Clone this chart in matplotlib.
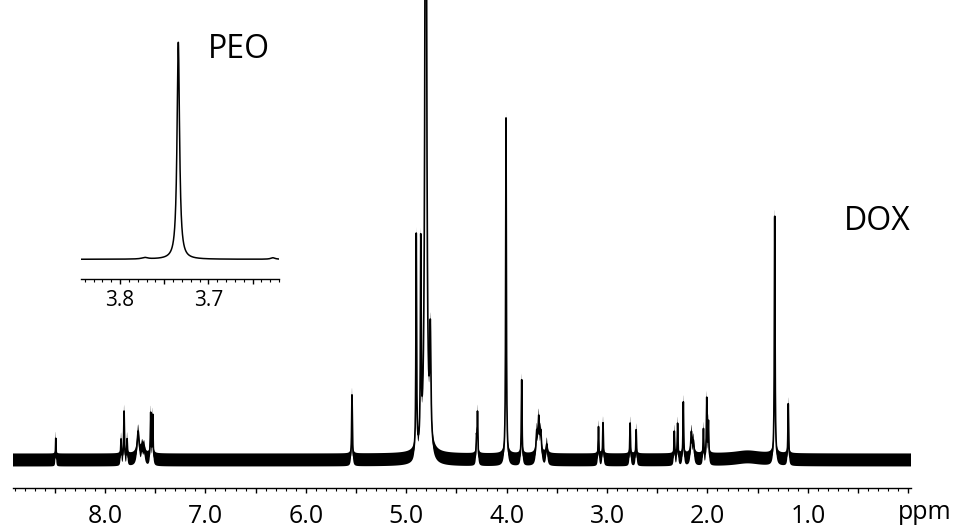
import numpy as np
import matplotlib
matplotlib.use("Agg")
import matplotlib.pyplot as plt

plt.rcParams["font.family"] = ["Open Sans", "DejaVu Sans"]

# -----------------------------
# Data
# -----------------------------
# main spectrum: peak position (ppm), height (arbitrary units), half width (ppm)
peak_ppm = [8.49, 7.84, 7.81, 7.78, 7.67, 7.63, 7.61, 7.545, 7.525,
            5.54, 4.90, 4.855, 4.805, 4.76, 4.30, 4.29, 4.006, 3.85,
            3.70, 3.68, 3.66, 3.60, 3.085, 3.04, 2.77, 2.71,
            2.33, 2.297, 2.24, 2.16, 2.14, 2.04, 2.007, 1.99, 1.60,
            1.33, 1.195]
peak_height = [22, 20, 48, 20, 28, 10, 10, 46, 44,
               66, 218, 200, 1000, 110, 20, 46, 342, 80,
               24, 38, 24, 15, 33, 37, 37, 30,
               28, 36, 58, 26, 16, 30, 60, 36, 3,
               246, 56]
peak_width = [0.003, 0.004, 0.004, 0.004, 0.012, 0.01, 0.01, 0.004, 0.004,
              0.004, 0.004, 0.004, 0.008, 0.007, 0.004, 0.004, 0.004, 0.004,
              0.008, 0.008, 0.008, 0.008, 0.004, 0.004, 0.004, 0.004,
              0.004, 0.004, 0.004, 0.008, 0.008, 0.004, 0.004, 0.004, 0.15,
              0.004, 0.004]

main_ticks = [8.5, 8.0, 7.5, 7.0, 6.5, 6.0, 5.5, 5.0, 4.5, 4.0,
              3.5, 3.0, 2.5, 2.0, 1.5, 1.0, 0.5, 0.0]
main_tick_labels = ["", "8.0", "", "7.0", "", "6.0", "", "5.0", "", "4.0",
                    "", "3.0", "", "2.0", "", "1.0", "", ""]

# inset: PEO peak
inset_ppm = [3.734, 3.772, 3.627]
inset_height = [217, 1.5, 1.5]
inset_width = [0.0017, 0.004, 0.003]

inset_ticks = [3.80, 3.75, 3.70, 3.65]
inset_tick_labels = ["3.8", "", "3.7", ""]


def spectrum(x, pos, h, w):
    y = np.zeros_like(x)
    for p, a, g in zip(pos, h, w):
        y += a / (1 + ((x - p) / g) ** 2)
    return y


# -----------------------------
# Figure
# -----------------------------
fig = plt.figure(figsize=(9.55, 5.28), dpi=100)

ax = fig.add_axes([0.0132, 0.0758, 0.941, 0.9242])
x = np.linspace(8.92, -0.03, 9000)
y = spectrum(x, peak_ppm, peak_height, peak_width)
ax.fill_between(x, y - 6.5, y + 6.5, color="black", lw=0)
ax.plot(x, y, color="black", lw=1.2)
ax.set_xlim(8.92, -0.03)
ax.set_ylim(-28, 460)

for s in ["left", "right", "top"]:
    ax.spines[s].set_visible(False)
ax.spines["bottom"].set_linewidth(1.0)
ax.set_yticks([])
ax.set_xticks(main_ticks)
ax.set_xticklabels(main_tick_labels)
ax.set_xticks(np.arange(-0.0, 8.95, 0.1), minor=True)
ax.tick_params(axis="x", which="major", direction="out", length=3.5,
               width=1.0, labelsize=18, pad=8)
ax.tick_params(axis="x", which="minor", direction="out", length=1.8, width=0.8)
fig.text(925 / 955, 1 - 519 / 528, "ppm", ha="center", va="baseline",
         fontsize=18)

fig.text(877 / 955, 1 - 222 / 528, "DOX", ha="center", va="center", fontsize=23)

# inset
axi = fig.add_axes([80.7 / 955, 1 - 279.3 / 528, 198.3 / 955, 279.3 / 528])
xi = np.linspace(3.8445, 3.620, 3000)
yi = spectrum(xi, inset_ppm, inset_height, inset_width)
axi.plot(xi, yi, color="black", lw=1.1)
axi.set_xlim(3.8445, 3.620)
axi.set_ylim(-20, 259.3)
for s in ["left", "right", "top"]:
    axi.spines[s].set_visible(False)
axi.spines["bottom"].set_linewidth(1.0)
axi.set_yticks([])
axi.set_xticks(inset_ticks)
axi.set_xticklabels(inset_tick_labels)
axi.set_xticks(np.arange(3.62, 3.845, 0.01), minor=True)
axi.tick_params(axis="x", which="major", direction="out", length=3.5,
                width=1.0, labelsize=15, pad=4)
axi.tick_params(axis="x", which="minor", direction="out", length=1.8, width=0.8)
axi.patch.set_alpha(0)
fig.text(239 / 955, 1 - 50 / 528, "PEO", ha="center", va="center", fontsize=23)

fig.savefig("out.png", dpi=100)
